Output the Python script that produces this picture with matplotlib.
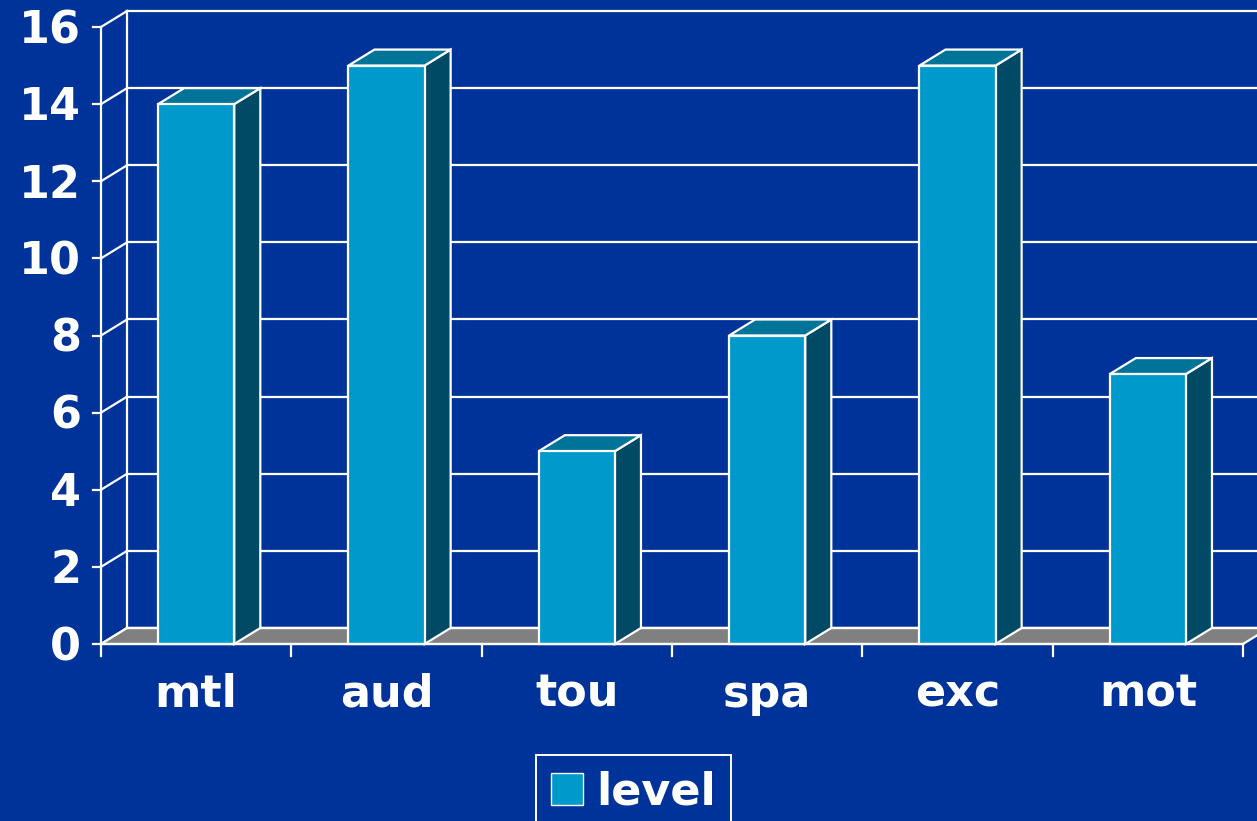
import numpy as np
import matplotlib
matplotlib.use("Agg")
import matplotlib.pyplot as plt
from matplotlib.patches import Polygon, Patch

# Dados
categories = ["mtl", "aud", "tou", "spa", "exc", "mot"]
level = [14, 15, 5, 8, 15, 7]
yticks = [0, 2, 4, 6, 8, 10, 12, 14, 16]

# Cores
BG = "#003399"
FRONT = "#0099CC"
TOP = "#007399"
SIDE = "#004A66"
FLOOR = "#808080"

# Profundidade 3D (em unidades de dados)
DX = 0.137
DY = 0.415
BAR_W = 0.40

fig = plt.figure(figsize=(12.57, 8.21), dpi=100, facecolor=BG)
ax = fig.add_axes([101 / 1257, 1 - 644 / 821, 1142 / 1257, 617 / 821])
ax.set_facecolor("none")
ax.set_xlim(0, len(categories))
ax.set_ylim(0, 16)
for s in ax.spines.values():
    s.set_visible(False)
ax.set_xticks([])
ax.set_yticks([])

n = len(categories)
lw = 1.6

# Parede do fundo e grade
for v in yticks:
    ax.plot([DX, n + DX + 1], [v + DY, v + DY], color="white", lw=lw, clip_on=False, zorder=1)
    ax.plot([0, DX], [v, v + DY], color="white", lw=lw, clip_on=False, zorder=1)
ax.plot([DX, DX], [DY, 16 + DY], color="white", lw=lw, clip_on=False, zorder=1)
ax.plot([0, 0], [0, 16], color="white", lw=lw, clip_on=False, zorder=5)

# Piso
floor = Polygon([(0, 0), (n, 0), (n + DX, DY), (DX, DY)], closed=True,
                facecolor=FLOOR, edgecolor="white", lw=lw, clip_on=False, zorder=2)
ax.add_patch(floor)
ax.plot([DX, n + DX + 1], [DY, DY], color="white", lw=lw, clip_on=False, zorder=2)

# Barras
for i, v in enumerate(level):
    x0 = i + 0.5 - BAR_W / 2
    x1 = i + 0.5 + BAR_W / 2
    front = Polygon([(x0, 0), (x1, 0), (x1, v), (x0, v)], closed=True,
                    facecolor=FRONT, edgecolor="white", lw=lw, clip_on=False, zorder=4)
    side = Polygon([(x1, 0), (x1 + DX, DY), (x1 + DX, v + DY), (x1, v)], closed=True,
                   facecolor=SIDE, edgecolor="white", lw=lw, clip_on=False, zorder=3)
    top = Polygon([(x0, v), (x1, v), (x1 + DX, v + DY), (x0 + DX, v + DY)], closed=True,
                  facecolor=TOP, edgecolor="white", lw=lw, clip_on=False, zorder=3)
    ax.add_patch(side)
    ax.add_patch(top)
    ax.add_patch(front)

# Linha base frontal
ax.plot([0, n], [0, 0], color="white", lw=lw, clip_on=False, zorder=5)

# Ticks e rótulos
for v in yticks:
    ax.plot([-0.04, 0], [v, v], color="white", lw=lw, clip_on=False, zorder=5)
    ax.text(-0.105, v - 0.1, str(v), color="white", fontsize=32, fontweight="bold",
            ha="right", va="center")
for i in range(n + 1):
    ax.plot([i, i], [0, -0.3], color="white", lw=lw, clip_on=False, zorder=5)
for i, c in enumerate(categories):
    ax.text(i + 0.5, -1.3, c, color="white", fontsize=32, fontweight="bold",
            ha="center", va="center")

leg = fig.legend(handles=[Patch(facecolor=FRONT, edgecolor="white", label="level")],
                 loc="upper center", bbox_to_anchor=(633.5 / 1257, 1 - 755 / 821),
                 frameon=True, fancybox=False, facecolor=BG, edgecolor="white",
                 framealpha=1, borderaxespad=0,
                 prop={"size": 32, "weight": "bold"}, handlelength=0.7, handleheight=0.7,
                 handletextpad=0.3, borderpad=0.35)
leg.get_frame().set_linewidth(1.4)
for t in leg.get_texts():
    t.set_color("white")

fig.savefig("out.png", dpi=100, facecolor=BG)
